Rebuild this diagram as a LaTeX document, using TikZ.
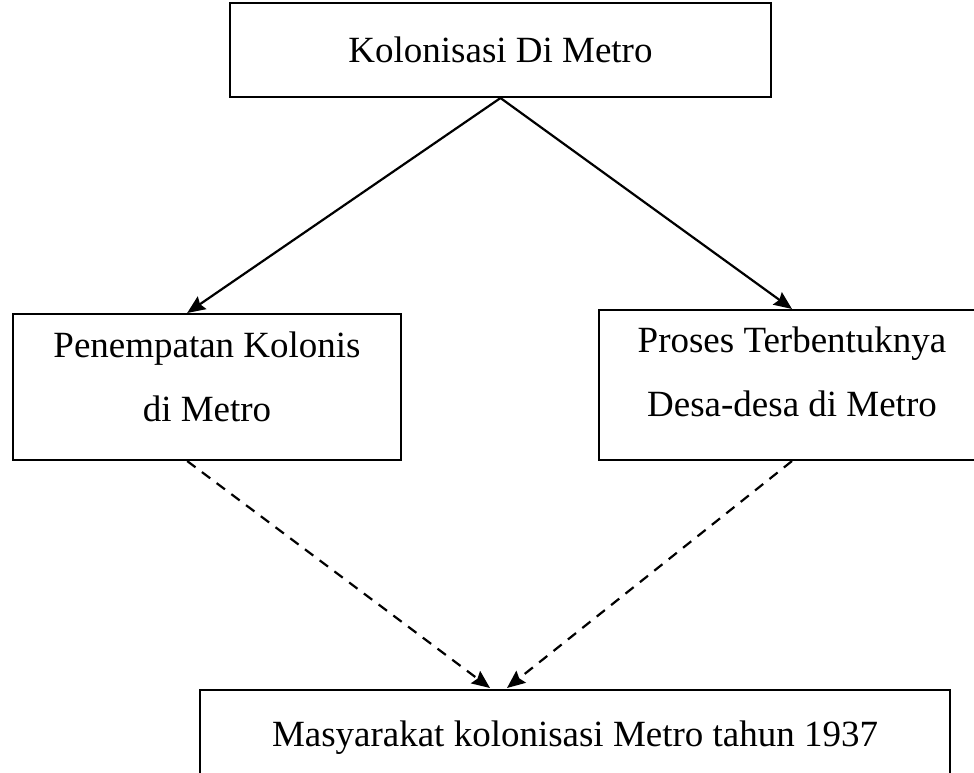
\documentclass[tikz,border=0pt]{standalone}
\usepackage{fontspec}
\setmainfont{Liberation Serif}
\usetikzlibrary{arrows.meta}

\begin{document}
\begin{tikzpicture}[
x=0.025cm, y=-0.025cm,
font=\fontsize{26.3}{45.5}\selectfont,
kotak/.style={draw, line width=0.05cm, inner sep=0pt, align=center},
panah/.style={-{Stealth[length=0.45cm,width=0.38cm,inset=0.06cm]}, line width=0.055cm},
putus/.style={panah, dash pattern=on 0.26cm off 0.2cm}]
    % Frame
    \useasboundingbox (0,0) rectangle (974,772);
    \clip (0,0) rectangle (974,772);

    % Boxes
    \node[kotak, minimum width=13.525cm, minimum height=2.35cm] (koloni) at (500.5,50) {Kolonisasi Di Metro};
    \node[kotak, minimum width=9.7cm, minimum height=3.65cm, text depth=0.5cm] (tempat) at (207,387) {Penempatan Kolonis\\di Metro};
    \node[kotak, minimum width=9.65cm, minimum height=3.75cm, text depth=0.65cm] (proses) at (792,385) {Proses Terbentuknya\\Desa-desa di Metro};
    \node[kotak, minimum width=18.75cm, minimum height=2.4cm] (hasil) at (575,738) {Masyarakat kolonisasi Metro tahun 1937};

    \coordinate (masukL) at (490,688);
    \coordinate (masukR) at (507,688);

    % Arrows
    \draw[panah] (koloni.south) -- (tempat.105);
    \draw[panah] (koloni.south) -- (proses.north);
    \draw[putus] (tempat.255) -- (masukL);
    \draw[putus] (proses.south) -- (masukR);
\end{tikzpicture}
\end{document}
